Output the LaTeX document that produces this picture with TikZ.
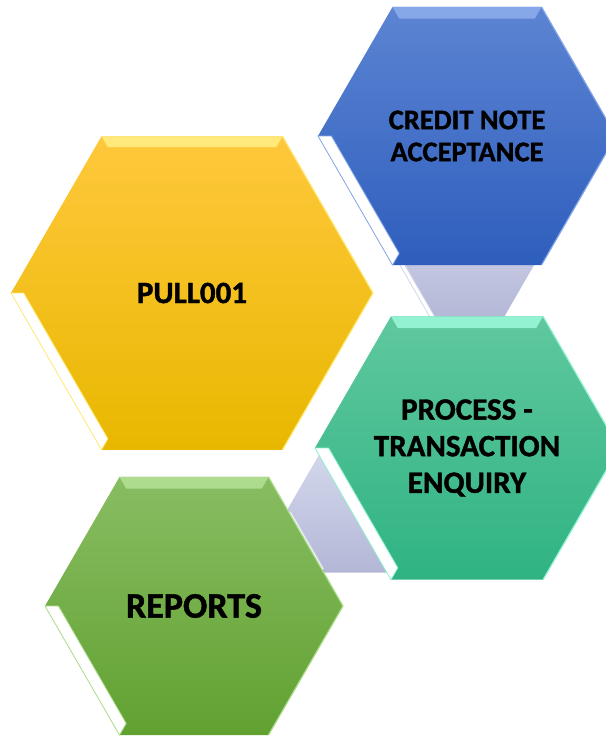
\documentclass[tikz,border=0pt]{standalone}
\usepackage{fontspec}
\setmainfont{Carlito}[BoldFeatures={FakeBold=1.2}]
\usepackage{xcolor}
\usepackage{tikz}
\usetikzlibrary{calc, shapes.geometric}

\definecolor{pullTop}{HTML}{FFC83C}
\definecolor{pullBot}{HTML}{E8B800}
\definecolor{pullLite}{HTML}{FFE97A}
\definecolor{creditTop}{HTML}{5C84D2}
\definecolor{creditBot}{HTML}{2E5EBD}
\definecolor{creditLite}{HTML}{86A8E8}
\definecolor{processTop}{HTML}{60C89E}
\definecolor{processBot}{HTML}{2FB383}
\definecolor{processLite}{HTML}{92F2D2}
\definecolor{reportsTop}{HTML}{88BD62}
\definecolor{reportsBot}{HTML}{61A131}
\definecolor{reportsLite}{HTML}{AEDC8E}
\definecolor{linkTop}{HTML}{D4D8EC}
\definecolor{linkBot}{HTML}{B3B7D6}

\tikzset{
    hexa/.style={regular polygon, regular polygon sides=6, minimum size=298pt, inner sep=0pt, outer sep=0pt, align=center, text=black, font=\bfseries\fontsize{31}{36.6}\selectfont},
    bigHexa/.style={hexa, minimum size=362pt},
    linkHexa/.style={regular polygon, regular polygon sides=6, minimum size=140pt, inner sep=0pt, outer sep=0pt, top color=linkTop, bottom color=linkBot},
    topBevel/.style={fill=#1},
    sideBevel/.style={fill=white, draw=#1, line width=0.8pt, line join=round},
    rimLine/.style={draw=#1, line width=1.2pt, line join=round}
}

\begin{document}
\begin{tikzpicture}[x=1pt, y=-1pt]

    \useasboundingbox (0,0) rectangle (605,736);

    % --- LINKS (behind) ---
    \node[linkHexa] (link1) at (467,260) {};
    \node[linkHexa] (link2) at (356,512) {};

    \foreach \n in {link1, link2}{
        \fill[sideBevel=linkTop] (\n.corner 3) -- (\n.corner 4) -- ($(\n.center)!0.93!(\n.corner 4)$) -- ($(\n.center)!0.93!(\n.corner 3)$) -- cycle;
    }

    % --- HEXAGONS ---
    \node[bigHexa, top color=pullTop, bottom color=pullBot] (pull) at (192,293) {PULL001};
    \node[hexa, top color=creditTop, bottom color=creditBot, font=\bfseries\fontsize{28.5}{32}\selectfont] (credit) at (467,136) {CREDIT NOTE\\ACCEPTANCE};
    \node[hexa, top color=processTop, bottom color=processBot] (process) at (467,448) {PROCESS -\\TRANSACTION\\ENQUIRY};
    \node[hexa, top color=reportsTop, bottom color=reportsBot, font=\bfseries\fontsize{36}{40}\selectfont] (reports) at (194,606) {REPORTS};

    % Bevel strips
    \foreach \n/\lite/\k in {pull/pullLite/0.93, credit/creditLite/0.91, process/processLite/0.91, reports/reportsLite/0.91}{
        \fill[topBevel=\lite] (\n.corner 1) -- (\n.corner 2) -- ($(\n.center)!\k!(\n.corner 2)$) -- ($(\n.center)!\k!(\n.corner 1)$) -- cycle;
        \filldraw[sideBevel=\lite] (\n.corner 3) -- (\n.corner 4) -- ($(\n.center)!\k!(\n.corner 4)$) -- ($(\n.center)!\k!(\n.corner 3)$) -- cycle;
        \draw[rimLine=\lite] (\n.corner 1) -- (\n.corner 6) -- (\n.corner 5);
    }

\end{tikzpicture}
\end{document}
